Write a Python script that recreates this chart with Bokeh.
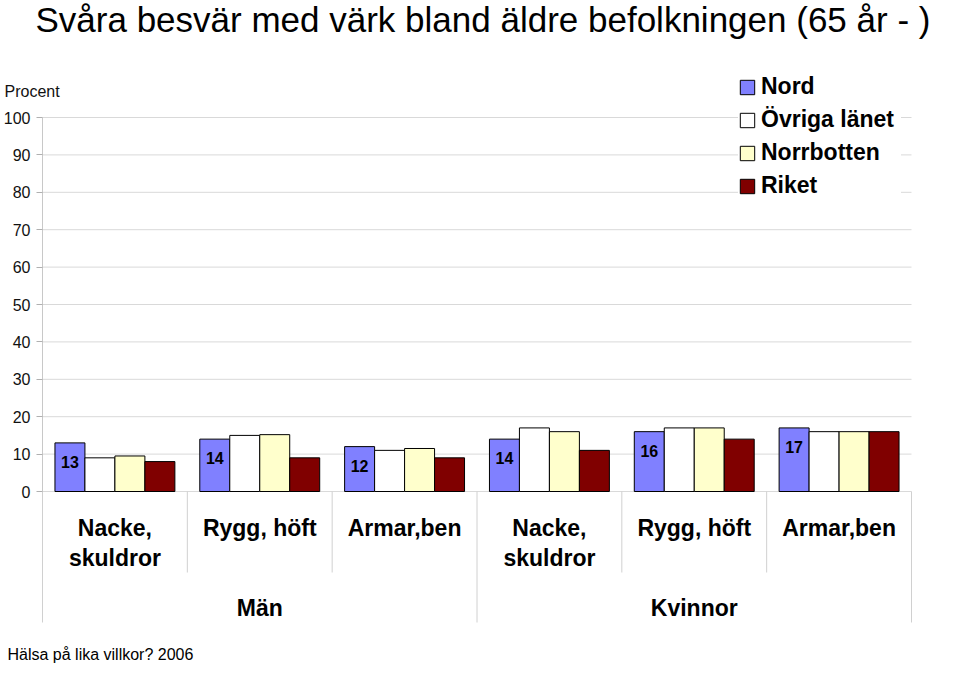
from bokeh.plotting import figure
from bokeh.models import ColumnDataSource, Range1d, FixedTicker
from bokeh.transform import dodge
from bokeh.core.properties import value
from bokeh.embed import file_html
from bokeh.resources import INLINE

# ---------------- data ----------------
title_text = "Svåra besvär med värk bland äldre befolkningen (65 år - )"
y_axis_title = "Procent"
footnote = "Hälsa på lika villkor? 2006"
groups = ["Män", "Kvinnor"]
categories = ["Nacke,\nskuldror", "Rygg, höft", "Armar,ben",
              "Nacke,\nskuldror", "Rygg, höft", "Armar,ben"]
series = ["Nord", "Övriga länet", "Norrbotten", "Riket"]
nord = [13, 14, 12, 14, 16, 17]
ovriga = [9, 15, 11, 17, 17, 16]
norrbotten = [9.5, 15.2, 11.5, 16, 17, 16]
riket = [8, 9, 9, 11, 14, 16]
y_ticks = [0, 10, 20, 30, 40, 50, 60, 70, 80, 90, 100]

colors = ["#8080ff", "#ffffff", "#ffffcc", "#800000"]
FONT = "Liberation Sans"

# ---------------- layout helpers (pixel -> data) ----------------
W, H = 944, 663
AX_L, AX_R = 42, 911            # pixel x of category axis ends
Y0_PX, Y100_PX = 491, 117       # pixel y of 0 and 100
PX_X = (AX_R - AX_L) / len(categories)
PX_Y = (Y0_PX - Y100_PX) / 100.0


def px_x(x):
    return (x - AX_L) / PX_X


def px_y(y):
    return (Y0_PX - y) / PX_Y


p = figure(width=W, height=H, output_backend="svg", toolbar_location=None,
           x_range=Range1d(px_x(0), px_x(W)),
           y_range=Range1d(px_y(H), px_y(0)),
           min_border_left=0, min_border_right=0,
           min_border_top=0, min_border_bottom=0)
p.outline_line_color = None
p.background_fill_color = "white"
p.border_fill_color = "white"

# axes
p.xaxis.visible = False
p.xgrid.grid_line_color = None
p.ygrid.grid_line_color = None
yax = p.yaxis[0]
yax.fixed_location = 0
yax.ticker = FixedTicker(ticks=y_ticks)
yax.bounds = (0, 100)
yax.axis_line_color = "#c8c8c8"
yax.major_tick_line_color = "#b0b0b0"
yax.major_tick_out = 6
yax.major_tick_in = 0
yax.minor_tick_line_color = None
yax.major_label_text_font = FONT
yax.major_label_text_font_size = "16px"
yax.major_label_text_color = "#111111"
yax.major_label_standoff = 6

# horizontal gridlines at the y-axis ticks, across the category span only
n_cat = len(categories)
p.segment(x0=[0] * len(y_ticks), x1=[n_cat] * len(y_ticks), y0=y_ticks, y1=y_ticks,
          line_color="#d9d9d9", line_width=1)

# ---------------- bars ----------------
x_centers = [i + 0.5 for i in range(n_cat)]
src = ColumnDataSource(dict(
    x=x_centers, nord=nord, ovriga=ovriga, norrbotten=norrbotten, riket=riket,
    nord_label=[str(v) for v in nord], cat=categories,
))
bar_w = 0.207
fields = ["nord", "ovriga", "norrbotten", "riket"]
for j, (f, name, c) in enumerate(zip(fields, series, colors)):
    off = (j - 1.5) * bar_w
    p.vbar(x=dodge("x", off), top=f, bottom=0, width=bar_w, source=src,
           fill_color=c, line_color="black", line_width=1, legend_label=name)

# value labels inside Nord bars
p.text(x=dodge("x", -1.5 * bar_w), y="nord", text="nord_label", source=src,
       y_offset=19, text_align="center", text_baseline="middle",
       text_font=value(FONT), text_font_style="bold", text_font_size="16px",
       text_color="black")

# ---------------- category axis (two levels) ----------------
p.text(x="x", y=px_y(514.5), text="cat", source=src,
       text_align="center", text_baseline="top", text_line_height=1.14,
       text_font=value(FONT), text_font_style="bold", text_font_size="23px",
       text_color="black")

n_per = n_cat // len(groups)
gsrc = ColumnDataSource(dict(
    x=[g * n_per + n_per / 2 for g in range(len(groups))], g=groups))
p.text(x="x", y=px_y(607), text="g", source=gsrc,
       text_align="center", text_baseline="middle",
       text_font=value(FONT), text_font_style="bold", text_font_size="23px",
       text_color="black")

short_x = [i for i in range(1, n_cat) if i % n_per != 0]
long_x = [g * n_per for g in range(len(groups) + 1)]
p.segment(x0=short_x, x1=short_x, y0=[0] * len(short_x), y1=[px_y(572)] * len(short_x),
          line_color="#d0d0d0", line_width=1)
p.segment(x0=long_x, x1=long_x, y0=[0] * len(long_x), y1=[px_y(622)] * len(long_x),
          line_color="#d0d0d0", line_width=1)

# ---------------- free texts ----------------
p.text(x=[px_x(35)], y=[px_y(19)], text=[title_text],
       text_align="left", text_baseline="middle",
       text_font=value(FONT), text_font_size="35px", text_color="black")
p.text(x=[px_x(4)], y=[px_y(91)], text=[y_axis_title],
       text_align="left", text_baseline="middle",
       text_font=value(FONT), text_font_size="16px", text_color="#111111")
p.text(x=[px_x(7)], y=[px_y(654)], text=[footnote],
       text_align="left", text_baseline="middle",
       text_font=value(FONT), text_font_size="16px", text_color="black")

# ---------------- legend ----------------
lg = p.legend[0]
lg.location = (738, H - 199)
lg.padding = 7
lg.margin = 0
lg.spacing = 6
lg.glyph_width = 18
lg.glyph_height = 18
lg.label_standoff = 5
lg.label_height = 26
lg.label_width = 140
lg.label_text_font = FONT
lg.label_text_font_style = "bold"
lg.label_text_font_size = "23px"
lg.label_text_color = "black"
lg.border_line_color = None
lg.background_fill_color = "white"
lg.background_fill_alpha = 1.0

open("out.html", "w").write(file_html(p, INLINE))
